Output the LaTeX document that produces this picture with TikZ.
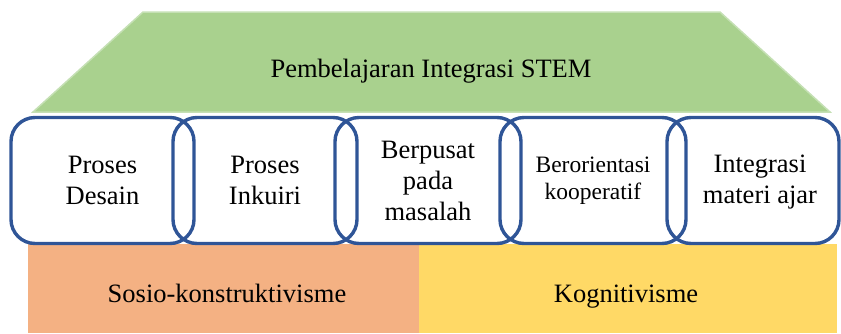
\documentclass[tikz,border=0pt]{standalone}
\usepackage{fontspec}
\setmainfont{Liberation Serif}
\definecolor{roofgreen}{HTML}{A9D18E}
\definecolor{roofedge}{HTML}{C5E0B4}
\definecolor{boxblue}{HTML}{2F5597}
\definecolor{baseorange}{HTML}{F4B183}
\definecolor{baseyellow}{HTML}{FFD966}
\tikzset{
  pillar/.style={draw=boxblue, line width=3.4pt, rounded corners=24pt, minimum height=126pt, inner sep=0pt, align=center, font=\fontsize{26.5}{31}\selectfont},
  bigtext/.style={font=\fontsize{26.5}{31}\selectfont, align=center, inner sep=0pt},
}
\begin{document}
\begin{tikzpicture}[x=1pt,y=-1pt]
\useasboundingbox (0,0) rectangle (841,333);
% roof
\filldraw[fill=roofgreen, draw=roofedge, line width=1.5pt] (143,12) -- (720,12) -- (830,112) -- (33,112) -- cycle;
\node[bigtext, anchor=base] (roof) at (431,77) {Pembelajaran Integrasi STEM};
% foundations
\fill[baseorange] (28,244) rectangle (419,333);
\fill[baseyellow] (419,244) rectangle (837,333);
\node[bigtext, anchor=base] (sosio) at (227,302) {Sosio-konstruktivisme};
\node[bigtext, anchor=base] (kogn) at (626,302) {Kognitivisme};
% pillars
\node[pillar, minimum width=183pt] (p1) at (102.5,180.5) {Proses\\Desain};
\node[pillar, minimum width=184pt] (p2) at (265,180.5) {Proses\\Inkuiri};
\node[pillar, minimum width=186pt] (p3) at (428,180.5) {Berpusat\\pada\\masalah};
\node[pillar, minimum width=186pt, font=\fontsize{23.5}{27}\selectfont] (p4) at (593,180.5) {Berorientasi\\kooperatif};
\node[pillar, minimum width=172pt] (p5) at (753,180.5) {};
\node[bigtext] (t5) at (760,182) {Integrasi\\materi ajar};
\end{tikzpicture}
\end{document}
